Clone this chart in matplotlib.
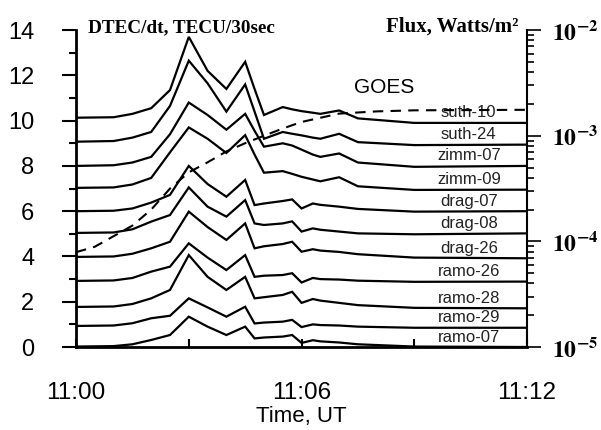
import numpy as np
import matplotlib
matplotlib.use("Agg")
import matplotlib.pyplot as plt
from matplotlib.ticker import FixedLocator, NullFormatter, LogLocator

plt.rcParams['font.family'] = ['Liberation Sans', 'DejaVu Sans']
plt.rcParams['mathtext.fontset'] = 'stix'

# minutes after 11:00 UT
minutes = [0, 1.0, 1.5, 2.0, 2.5, 3.0, 3.5, 4.0, 4.5, 4.75, 5.0, 5.5, 5.75,
           6.0, 6.3, 6.5, 7.0, 7.5, 9.0, 12.0]

# DTEC/dt per station, already offset for stacking
suth_10 = [10.13, 10.15, 10.3, 10.55, 11.35, 13.7, 12.2, 11.4, 12.6, 11.4, 10.25,
           10.6, 10.5, 10.42, 10.35, 10.3, 10.45, 10.1, 9.9, 9.9]
suth_24 = [9.07, 9.1, 9.25, 9.5, 10.65, 12.65, 11.65, 10.4, 11.6, 10.4, 9.2,
           9.5, 9.42, 9.35, 9.25, 9.2, 9.42, 9.05, 8.92, 8.94]
zimm_07 = [8.0, 8.03, 8.15, 8.4, 9.4, 10.8, 10.25, 9.6, 10.3, 9.55, 8.85,
           9.0, 8.9, 8.72, 8.5, 8.4, 8.55, 8.15, 7.96, 8.0]
zimm_09 = [7.03, 7.05, 7.18, 7.47, 8.6, 9.7, 9.2, 8.57, 9.36, 8.5, 7.7,
           7.77, 7.65, 7.52, 7.4, 7.32, 7.5, 7.1, 6.94, 6.95]
drag_07 = [6.0, 6.02, 6.12, 6.38, 6.72, 8.0, 7.2, 6.64, 7.38, 6.27, 6.34,
           6.45, 6.52, 6.12, 6.34, 6.28, 6.2, 6.1, 5.98, 6.0]
drag_08 = [5.04, 5.06, 5.2, 5.54, 5.83, 7.05, 6.2, 5.76, 6.49, 5.46, 5.39,
           5.46, 5.55, 5.1, 5.24, 5.18, 5.1, 5.02, 4.98, 5.02]
drag_26 = [3.98, 4.0, 4.12, 4.36, 4.65, 5.98, 5.3, 4.73, 5.46, 4.36, 4.45,
           4.55, 4.65, 4.21, 4.32, 4.26, 4.2, 4.1, 3.95, 3.92]
ramo_26 = [2.92, 2.94, 3.05, 3.33, 3.55, 4.58, 3.95, 3.4, 4.06, 3.1, 3.15,
           3.18, 3.26, 2.85, 3.05, 3.0, 2.98, 2.93, 2.88, 2.89]
ramo_28 = [1.77, 1.79, 1.9, 2.15, 2.52, 4.06, 3.1, 2.52, 3.1, 2.15, 2.2,
           2.3, 2.44, 1.95, 2.12, 2.05, 1.95, 1.85, 1.73, 1.71]
ramo_29 = [0.93, 0.95, 1.05, 1.27, 1.38, 2.15, 1.75, 1.34, 1.78, 1.04, 1.08,
           1.12, 1.2, 0.88, 1.0, 0.97, 0.95, 0.9, 0.85, 0.85]
ramo_07 = [0.02, 0.04, 0.12, 0.31, 0.53, 1.34, 0.9, 0.53, 0.9, 0.38, 0.42,
           0.46, 0.53, 0.18, 0.3, 0.25, 0.2, 0.12, 0.02, 0.0]

stations = ['suth-10', 'suth-24', 'zimm-07', 'zimm-09', 'drag-07', 'drag-08',
            'drag-26', 'ramo-26', 'ramo-28', 'ramo-29', 'ramo-07']
series = [suth_10, suth_24, zimm_07, zimm_09, drag_07, drag_08,
          drag_26, ramo_26, ramo_28, ramo_29, ramo_07]

# GOES X-ray flux, W/m^2
goes_min = [0, 0.5, 1.0, 1.5, 2.0, 2.5, 3.0, 3.5, 4.0, 4.5, 5.0, 5.5, 6.0,
            7.0, 8.0, 9.0, 12.0]
goes_flux = [7.9e-5, 8.9e-5, 1.12e-4, 1.41e-4, 2.0e-4, 3.16e-4, 4.5e-4, 5.6e-4,
             7.1e-4, 8.5e-4, 1.0e-3, 1.17e-3, 1.35e-3, 1.62e-3, 1.7e-3, 1.74e-3,
             1.76e-3]

time_ticks = [0, 6, 12]
time_labels = ['11:00', '11:06', '11:12']
flux_ticks = [1e-5, 1e-4, 1e-3, 1e-2]
flux_labels = [r'$\mathbf{10^{-5}}$', r'$\mathbf{10^{-4}}$',
               r'$\mathbf{10^{-3}}$', r'$\mathbf{10^{-2}}$']

fig = plt.figure(figsize=(6.01, 4.30), dpi=100)
ax = fig.add_axes([0.1265, 0.193, 0.7505, 0.737])

for name, vals in zip(stations, series):
    ax.plot(minutes, vals, color='black', lw=1.6, solid_joinstyle='miter')
    ax.text(10.45, vals[-1] + 0.24, name, ha='center', va='baseline',
            fontsize=12, color='#222222')

ax.set_xlim(0, 12)
ax.set_ylim(0, 14)
ax.set_xticks(time_ticks)
ax.set_xticklabels(time_labels)
ax.xaxis.set_minor_locator(FixedLocator([3, 9]))
ax.set_yticks(np.arange(0, 15, 2))
ax.yaxis.set_minor_locator(FixedLocator(np.arange(1, 14, 2)))
ax.tick_params(axis='y', which='major', direction='out', length=10, width=1.5,
               pad=20, labelsize=17)
ax.tick_params(axis='y', which='minor', direction='out', length=5, width=1.5)
ax.tick_params(axis='x', which='both', direction='in', length=6, width=1.5,
               pad=25, labelsize=17.5)
ax.set_xlabel('Time, UT', fontsize=16, labelpad=0)
ax.xaxis.set_label_coords(0.5, -0.185)

ax.spines['top'].set_visible(False)
ax.spines['left'].set_linewidth(2)
ax.spines['bottom'].set_linewidth(2)
ax.spines['right'].set_visible(False)

# flux on a log scale against the right spine
ax2 = ax.twinx()
ax2.plot(goes_min, goes_flux, color='black', lw=1.5, ls=(0, (5, 3.5)))
ax2.set_yscale('log')
ax2.set_ylim(1e-5, 1e-2)
ax2.set_yticks(flux_ticks)
ax2.set_yticklabels(flux_labels)
ax2.yaxis.set_minor_locator(LogLocator(base=10, subs=np.arange(2, 10)))
ax2.yaxis.set_minor_formatter(NullFormatter())
ax2.tick_params(axis='y', which='major', direction='out', length=10, width=1.2,
                pad=8, labelsize=17)
ax2.tick_params(axis='y', which='minor', direction='out', length=5, width=1.2)
ax2.spines['top'].set_visible(False)
ax2.spines['left'].set_visible(False)
ax2.spines['bottom'].set_visible(False)
ax2.spines['right'].set_linewidth(1.5)

ax.text(8.2, 11.45, 'GOES', fontsize=15, ha='center', va='center')

fig.text(0.146, 0.9256, 'DTEC/dt, TECU/30sec', family='Liberation Serif',
         weight='bold', fontsize=13.8, ha='left', va='baseline')
fig.text(0.862, 0.9256, 'Flux, Watts/m²', family='Liberation Serif',
         weight='bold', fontsize=15, ha='right', va='baseline')

fig.savefig('out.png', dpi=100)
